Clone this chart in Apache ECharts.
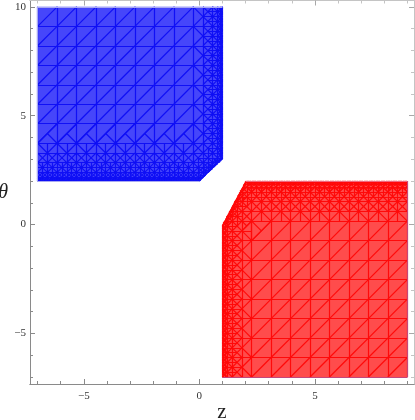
<!DOCTYPE html>
<html><head><meta charset="utf-8">
<style>html,body{margin:0;padding:0;background:#fff}#c{width:415px;height:420px}</style>
<script src="https://cdn.jsdelivr.net/npm/echarts@6/dist/echarts.min.js"></script>
</head><body><div id="c"></div>
<script>
// Sampling grid of the region plot
const zGrid = [-7,-6.158,-5.316,-4.474,-3.632,-2.789,-1.947,-1.105,-0.263,0.579,1.421,2.263,3.105,3.947,4.789,5.632,6.474,7.316,8.158,9];
const thetaGrid = [-7,-6.105,-5.211,-4.316,-3.421,-2.526,-1.632,-0.737,0.158,1.053,1.947,2.842,3.737,4.632,5.526,6.421,7.316,8.211,9.105,10];
// Region outlines
const bluePolygon = [[-7,2],[0,2],[1,3],[1,10],[-7,10]];
const redPolygon = [[1,-7],[9,-7],[9,2],[2,2],[1,0]];
// Curved (active) part of each boundary, where the mesh refines
const blueCurve = [[-7,2],[0,2],[1,3],[1,10]];
const redCurve = [[1,-7],[1,0],[2,2],[9,2]];
// Thin edge strokes
const blueEdge = [[1,10],[-7,10],[-7,2],[0,2]];
const redEdge = [[1,-7],[9,-7],[9,2]];
const redTopEdge = [[2,2],[9,2]];
// Axis ticks
const zMajor = [-5,0,5];
const zMinor = [-7,-6,-4,-3,-2,-1,1,2,3,4,6,7,8,9];
const thetaMajor = [-5,0,5,10];
const thetaMinor = [-7,-6,-4,-3,-2,-1,1,2,3,4,6,7,8,9];
// Refinement: [distance below which, level]
const refineSteps = [[0.05,8],[0.1,7],[0.2,6],[0.4,5],[0.85,4],[1.35,3],[1.75,2],[2.1,1]];
const zDistanceWeight = 1.6;

function segDist(p,a,b){
  const wx=zDistanceWeight;
  const ax=a[0]*wx,bx=b[0]*wx,px=p[0]*wx,ay=a[1],by=b[1],py=p[1];
  const dx=bx-ax,dy=by-ay;
  let t=((px-ax)*dx+(py-ay)*dy)/(dx*dx+dy*dy);
  t=Math.max(0,Math.min(1,t));
  return Math.hypot(px-ax-t*dx,py-ay-t*dy);
}
function curveDist(p,c){let d=1e9;for(let i=0;i+1<c.length;i++)d=Math.min(d,segDist(p,c[i],c[i+1]));return d;}
function clipSeg(a,b,poly){ // convex polygon, counter-clockwise
  let t0=0,t1=1;const dx=b[0]-a[0],dy=b[1]-a[1];
  for(let i=0;i<poly.length;i++){
    const p=poly[i],q=poly[(i+1)%poly.length];
    const nx=-(q[1]-p[1]),ny=q[0]-p[0];
    const num=nx*(a[0]-p[0])+ny*(a[1]-p[1]),den=nx*dx+ny*dy;
    if(Math.abs(den)<1e-12){if(num<0)return null;continue;}
    const t=-num/den;
    if(den>0)t0=Math.max(t0,t);else t1=Math.min(t1,t);
    if(t0>=t1)return null;
  }
  return [[a[0]+t0*dx,a[1]+t0*dy],[a[0]+t1*dx,a[1]+t1*dy]];
}
function target(d){for(const s of refineSteps)if(d<s[0])return s[1];return 0;}
function buildMesh(poly,curve){
  const seen=new Set(),out=[];
  const add=(a,b)=>{
    const k=[a,b].map(p=>p[0].toFixed(4)+','+p[1].toFixed(4)).sort().join('|');
    if(seen.has(k))return;seen.add(k);
    const s=clipSeg(a,b,poly);
    if(s&&Math.hypot(s[1][0]-s[0][0],s[1][1]-s[0][1])>1e-6)out.push({coords:s});
  };
  const rec=(A,B,C,L)=>{ // A is the right-angle corner
    const g=[(A[0]+B[0]+C[0])/3,(A[1]+B[1]+C[1])/3];
    const d=curveDist(g,curve);
    if(L<target(d)){
      const m=[(B[0]+C[0])/2,(B[1]+C[1])/2];
      rec(m,A,B,L+1);rec(m,C,A,L+1);
    } else {add(A,B);add(B,C);add(C,A);}
  };
  for(let i=0;i+1<zGrid.length;i++)for(let j=0;j+1<thetaGrid.length;j++){
    const x0=zGrid[i],x1=zGrid[i+1],y0=thetaGrid[j],y1=thetaGrid[j+1];
    rec([x1,y0],[x0,y0],[x1,y1],0);
    rec([x0,y1],[x1,y1],[x0,y0],0);
  }
  return out;
}
const pathToLines=p=>p.slice(1).map((q,i)=>({coords:[p[i],q]}));

function polySeries(poly,fill){
  return {type:'custom',coordinateSystem:'cartesian2d',xAxisIndex:0,yAxisIndex:0,silent:true,z:1,clip:false,
    data:[0],encode:{x:[],y:[]},
    renderItem:(params,api)=>({type:'polygon',shape:{points:poly.map(p=>api.coord(p))},style:{fill:fill,stroke:null}})};
}
function lineSeries(data,color,width,z){
  return {type:'lines',coordinateSystem:'cartesian2d',xAxisIndex:0,yAxisIndex:0,silent:true,z:z,
    polyline:false,animation:false,large:false,progressive:0,progressiveThreshold:1e9,data:data,
    lineStyle:{color:color,width:width,opacity:1,curveness:0},symbol:'none',effect:{show:false}};
}
const gray='#8a8a8a',light='#c4c4c4',tickLight='#a8a8a8',textCol='#333';
const XMIN=-7.33,XMAX=9.29,YMIN=-7.32,YMAX=10.29;
function xAx(pos,vals,len,col,lineCol,extra){
  return Object.assign({type:'value',position:pos,min:XMIN,max:XMAX,splitLine:{show:false},
    axisLine:{show:true,onZero:false,lineStyle:{color:lineCol,width:1}},
    axisTick:{show:true,inside:true,length:len,customValues:vals,lineStyle:{color:col,width:1}},
    axisLabel:{show:false}},extra||{});
}
function yAx(pos,vals,len,col,lineCol,extra){
  return Object.assign({type:'value',position:pos,min:YMIN,max:YMAX,splitLine:{show:false},
    axisLine:{show:true,onZero:false,lineStyle:{color:lineCol,width:1}},
    axisTick:{show:true,inside:true,length:len,customValues:vals,lineStyle:{color:col,width:1}},
    axisLabel:{show:false}},extra||{});
}
const fmt=v=>String(v).replace('-','\u2212');
const labelStyle={fontFamily:'Liberation Serif',fontSize:11,color:textCol};
const nameStyle={fontFamily:'Liberation Serif',fontSize:21,color:'#222'};
const chart=echarts.init(document.getElementById('c'),null,{renderer:'canvas'});
chart.setOption({
  animation:false,backgroundColor:'#fff',
  grid:{left:30,right:1,top:0.5,bottom:36,containLabel:false,outerBoundsMode:'none'},
  xAxis:[
    xAx('bottom',zMajor,5,gray,gray,{name:'z',nameLocation:'middle',nameGap:18,nameMoveOverlap:false,nameTextStyle:nameStyle,
      axisLabel:Object.assign({show:true,customValues:zMajor,formatter:fmt,margin:7},labelStyle)}),
    xAx('bottom',zMinor,3,gray,gray),
    xAx('top',zMajor,5,tickLight,light),
    xAx('top',zMinor,3,light,light)
  ],
  yAxis:[
    yAx('left',thetaMajor,5,gray,gray,{name:'\u03b8',nameLocation:'middle',nameGap:22,nameRotate:0,nameMoveOverlap:false,
      nameTextStyle:Object.assign({},nameStyle,{fontStyle:'italic',fontSize:20}),
      axisLabel:Object.assign({show:true,customValues:thetaMajor,formatter:fmt,margin:4},labelStyle)}),
    yAx('left',thetaMinor,3,gray,gray),
    yAx('right',thetaMajor,5,tickLight,light),
    yAx('right',thetaMinor,3,light,light)
  ],
  series:[
    polySeries(bluePolygon,'#4646fa'),
    polySeries(redPolygon,'#ff4c4c'),
    lineSeries(buildMesh(bluePolygon,blueCurve),'#1010f5',1.2,2),
    lineSeries(buildMesh(redPolygon,redCurve),'#ff0a0a',1.2,2),
    lineSeries(pathToLines(blueEdge),'#a8a8f2',1,3),
    lineSeries(pathToLines(redEdge),'#c2487c',1,3),
    lineSeries(pathToLines(redTopEdge),'#ee6a80',1,3)
  ]
});
</script></body></html>
